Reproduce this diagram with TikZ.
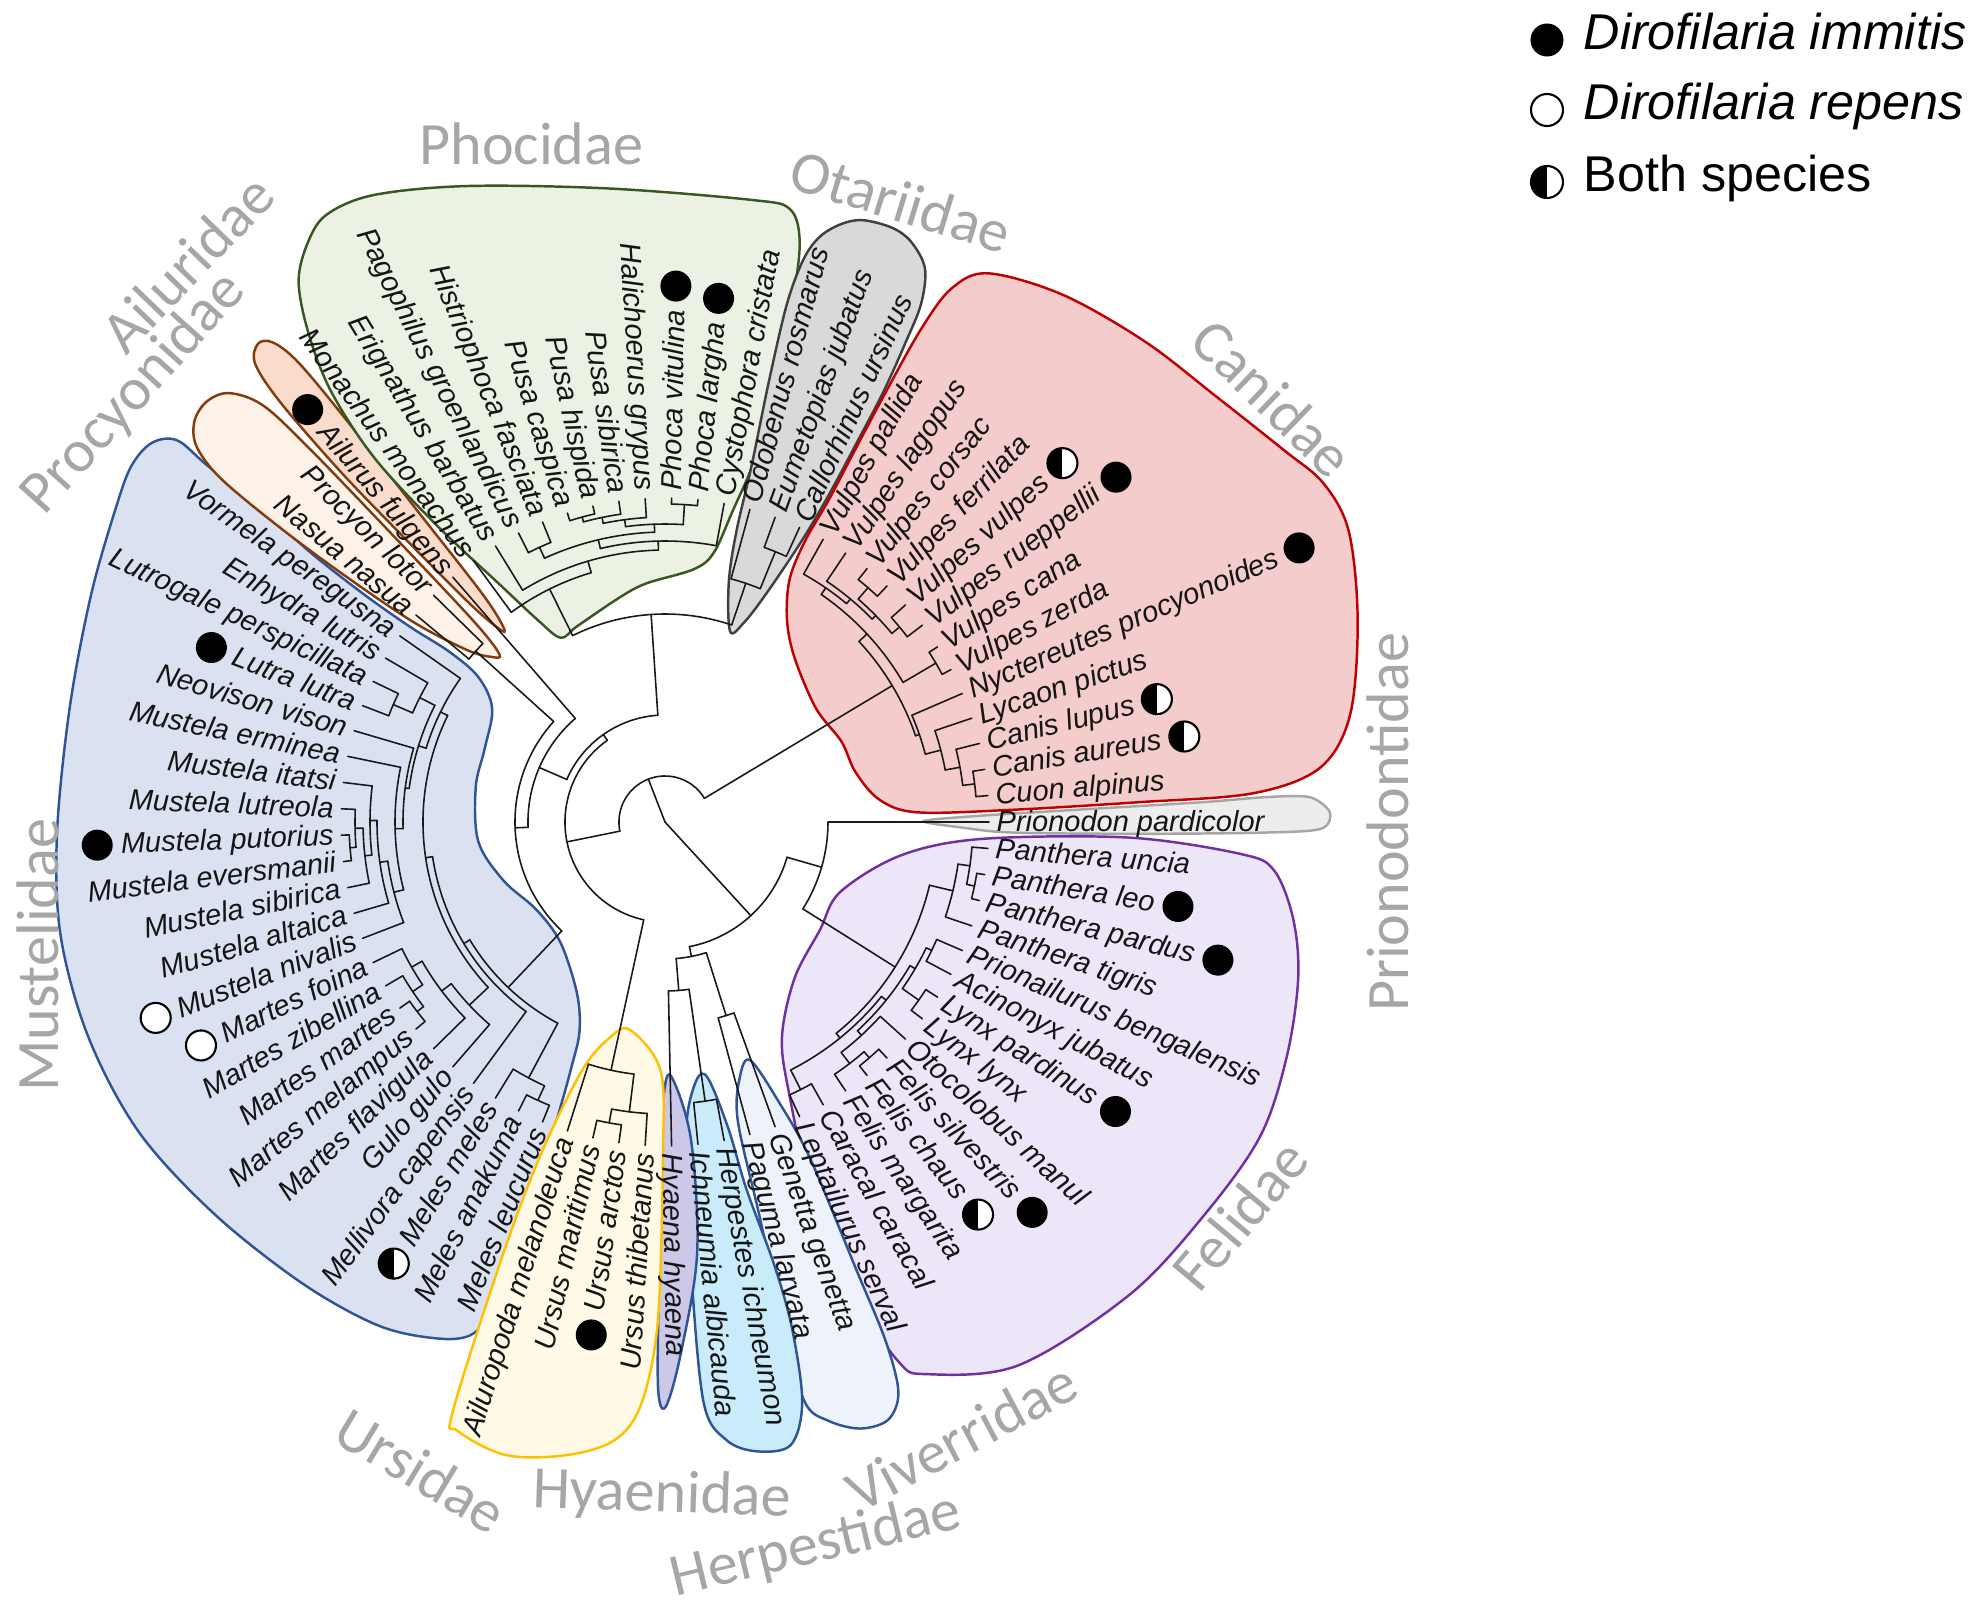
\documentclass[tikz,border=0pt]{standalone}
\usepackage{fontspec}
\setmainfont{Liberation Sans}
\newfontfamily\famfont{Carlito}
\usetikzlibrary{calc}

\definecolor{canF}{HTML}{F4CCCC}\definecolor{canD}{HTML}{C00000}
\definecolor{otaF}{HTML}{D9D9D9}\definecolor{otaD}{HTML}{404040}
\definecolor{phoF}{HTML}{EBF2E3}\definecolor{phoD}{HTML}{385723}
\definecolor{ailF}{HTML}{F9DCCB}\definecolor{ailD}{HTML}{843C0C}
\definecolor{proF}{HTML}{FDF1E8}
\definecolor{musF}{HTML}{DAE2F2}\definecolor{musD}{HTML}{2F5597}
\definecolor{ursF}{HTML}{FFF9E6}\definecolor{ursD}{HTML}{FFC000}
\definecolor{hyaF}{HTML}{CCC8E8}
\definecolor{herF}{HTML}{C9EBFA}
\definecolor{vivF}{HTML}{EEF2FA}
\definecolor{felF}{HTML}{ECE6F8}\definecolor{felD}{HTML}{7030A0}
\definecolor{priF}{HTML}{EDEDED}\definecolor{priD}{HTML}{A6A6A6}
\definecolor{famgray}{HTML}{A6A6A6}
\definecolor{labcol}{HTML}{151515}

\newcommand\labfont{\fontsize{8.25}{9.9}\selectfont\itshape}
\newcommand\famfnt{\famfont\fontsize{17.1}{20}\selectfont}
\newcommand\legfnt{\fontsize{14.3}{17}\selectfont}

\newcommand\setA[2]{\expandafter\xdef\csname A@#1\endcsname{#2}}
\newcommand\setR[2]{\expandafter\xdef\csname R@#1\endcsname{#2}}
\newcommand\getA[1]{\csname A@#1\endcsname}
\newcommand\getR[1]{\csname R@#1\endcsname}

% internal node: name, radius, ordered children
\newcommand\clade[3]{%
  \foreach \ch [count=\ci] in {#3}{\ifnum\ci=1 \xdef\cfirst{\ch}\fi\xdef\clast{\ch}}%
  \pgfmathsetmacro\aF{\getA{\cfirst}}%
  \pgfmathsetmacro\aL{\getA{\clast}}%
  \pgfmathsetmacro\aM{(\aF+\aL)/2}%
  \setA{#1}{\aM}\setR{#1}{#2}%
  \pgfmathsetmacro\rc{#2/100}%
  \coordinate (#1) at (\aM:#2);%
  \draw[branch] (\aF:#2) arc[start angle=\aF, end angle=\aL, radius=\rc cm];%
  \foreach \ch in {#3}{%
    \pgfmathsetmacro\ca{\getA{\ch}}%
    \draw[branch] (\ca:#2) -- (\ch);}%
}

% species label
\newcommand\spl[2]{%
  \pgfmathsetmacro\ang{\getA{L#1}}%
  \pgfmathtruncatemacro\side{(\ang>90)&&(\ang<270)}%
  \ifnum\side=1
    \pgfmathsetmacro\rot{\ang-180}%
    \node[lab, rotate=\rot, anchor=mid east] (n#1) at (\ang:331) {#2};%
  \else
    \node[lab, rotate=\ang, anchor=mid west] (n#1) at (\ang:331) {#2};%
  \fi}

% marker after label
\newcommand\mk[2]{%
  \pgfmathsetmacro\ang{\getA{L#1}}%
  \pgfmathtruncatemacro\side{(\ang>90)&&(\ang<270)}%
  \ifnum\side=1
    \node[#2] (m#1) at ([shift={(\ang:23)}]n#1.mid west) {};%
  \else
    \node[#2] (m#1) at ([shift={(\ang:23)}]n#1.mid east) {};%
  \fi}

\begin{document}
\begin{tikzpicture}[x=0.01cm, y=0.01cm,
  branch/.style={line width=0.45pt, black!90, line cap=round},
  lab/.style={font=\labfont, inner sep=0pt, text=labcol},
  hull/.style={line width=0.7pt},
  fam/.style={font=\famfnt, text=famgray, inner sep=0pt},
  fullmk/.style={circle, fill=black, inner sep=0pt, minimum size=3.1mm},
  openmk/.style={circle, draw=black, line width=0.6pt, fill=white, inner sep=0pt, minimum size=3.0mm},
  halfmk/.style={circle, draw=black, line width=0.6pt, fill=white, inner sep=0pt, minimum size=3.0mm,
     path picture={\fill[black] (path picture bounding box.south) rectangle (path picture bounding box.north west);}},
  legtext/.style={font=\legfnt, anchor=mid west, inner sep=0pt}]

\fill[white] (-665,-786) rectangle (1319,822);
\useasboundingbox (-665,-786) rectangle (1319,822);

% ---------------- hulls (reference pixel coordinates) ----------------
\begin{scope}[shift={(-665,822)}, xscale=1.2653, yscale=-1.2653]
\draw[hull, fill=musF, draw=musD] plot[smooth cycle, tension=0.55] coordinates {(120,350) (140,348) (164,368) (210,405) (247,438) (288,470) (325,496) (355,515) (378,535) (389,560) (383,592) (376,622) (378,665) (398,696) (424,719) (443,745) (456,785) (458,815) (452,842) (440,885) (414,970) (387,1033) (374,1054) (348,1058) (300,1048) (240,1015) (170,960) (110,895) (70,820) (48,740) (45,660) (55,560) (72,470) (92,400) (104,368)};
\end{scope}
\draw[hull, fill=proF, draw=ailD] plot[smooth cycle, tension=0.55] coordinates {(134.6:236) (133.6:280) (133.5:400) (133.6:520) (134.0:580) (135.5:612) (137.5:622) (139.6:618) (141.3:600) (142.3:560) (142.6:480) (142.4:400) (141.5:320) (139.0:262) (136.5:240)};
\draw[hull, fill=ailF, draw=ailD] plot[smooth cycle, tension=0.55] coordinates {(129.9:250) (128.7:290) (128.5:400) (128.4:520) (128.6:590) (129.3:620) (130.4:628) (131.8:615) (132.5:570) (132.8:480) (132.6:400) (131.9:300) (131.0:262)};
\begin{scope}[shift={(-665,822)}, xscale=1.2653, yscale=-1.2653]
\draw[hull, fill=phoF, draw=phoD] plot[smooth cycle, tension=0.55] coordinates {(236,222) (244,190) (259,169) (296,154) (370,147) (482,149) (594,158) (624,165) (632,190) (627,235) (613,309) (598,360) (579,404) (564,437) (548,450) (511,461) (490,472) (456,495) (443,504) (425,490) (395,462) (345,415) (296,362) (262,310) (244,264)};
\draw[hull, fill=otaF, draw=otaD] plot[smooth cycle, tension=0.55] coordinates {(577,499) (576,460) (582,420) (594,368) (608,300) (622,240) (635,205) (648,187) (665,177) (682,174) (705,180) (720,191) (731,212) (728,240) (716,270) (698,310) (676,352) (654,393) (632,430) (605,470) (588,492)};
\draw[hull, fill=canF, draw=canD] plot[smooth cycle, tension=0.55] coordinates {(781,216) (840,233) (905,270) (962,314) (1015,356) (1046,382) (1066,420) (1073,490) (1067,565) (1043,607) (990,627) (900,634) (800,640) (725,642) (695,632) (676,610) (665,586) (645,560) (628,520) (622,490) (624,458) (636,428) (655,395) (675,357) (700,310) (728,260) (752,228)};
\draw[hull, fill=priF, draw=priD] plot[smooth cycle, tension=0.5] coordinates {(730,649) (770,645) (850,640) (950,634) (1000,630) (1035,630) (1051,642) (1044,655) (1000,658) (900,659) (800,658) (760,654)};
\draw[hull, fill=felF, draw=felD] plot[smooth cycle, tension=0.55] coordinates {(664,705) (712,676) (776,663) (893,662) (981,675) (1007,688) (1022,726) (1026,773) (1017,835) (996,898) (952,960) (893,1023) (805,1079) (732,1086) (710,1076) (674,1023) (645,960) (624,866) (618,820) (628,773) (648,735)};
\draw[hull, fill=vivF, draw=musD] plot[smooth cycle, tension=0.55] coordinates {(593,838) (615,870) (640,915) (677,1004) (700,1060) (710,1100) (702,1122) (680,1129) (655,1123) (636,1108) (620,1050) (600,960) (583,885) (585,850)};
\draw[hull, fill=herF, draw=musD] plot[smooth cycle, tension=0.55] coordinates {(558,850) (575,890) (590,940) (612,1000) (626,1050) (634,1108) (625,1142) (598,1147) (574,1138) (556,1108) (546,1000) (542,900) (548,860)};
\draw[hull, fill=hyaF, draw=musD] plot[smooth cycle, tension=0.55] coordinates {(530,850) (546,900) (551,990) (538,1070) (526,1112) (520,1095) (521,1000) (522,938) (524,872)};
\draw[hull, fill=ursF, draw=ursD] plot[smooth cycle, tension=0.55] coordinates {(498,814) (522,846) (524,911) (520,1043) (507,1109) (486,1138) (448,1150) (400,1150) (362,1131) (358,1115) (398,990) (428,911) (460,846) (482,820)};
\end{scope}

% ---------------- tree ----------------
\foreach \k in {1,...,77}{%
  \pgfmathsetmacro\a{\k*4.6753247}%
  \setA{L\k}{\a}\setR{L\k}{324}%
  \coordinate (L\k) at (\a:324);}

% Canidae
\clade{CA}{312}{L1,L2}
\clade{CAL}{300}{CA,L3}
\clade{CANINI}{285}{CAL,L4}
\clade{CN}{269}{CANINI,L5}
\clade{ZC}{314}{L6,L7}
\clade{RV}{305}{L8,L9}
\clade{FC}{310}{L10,L11}
\clade{RVFC}{295}{RV,FC}
\clade{LG}{290}{RVFC,L12}
\clade{VV}{284}{LG,L13}
\clade{VUL}{276}{ZC,VV}
\clade{CAN}{265}{CN,VUL}
% Pinnipedia
\clade{OTB}{292}{L14,L15}
\clade{OTA}{252}{OTB,L16}
\clade{PP}{318}{L18,L19}
\clade{PUSB}{316}{L22,L23}
\clade{PUSA}{311}{L21,PUSB}
\clade{HPU}{305}{L20,PUSA}
\clade{PHOCINI}{298}{PP,HPU}
\clade{HP}{302}{L24,L25}
\clade{PHC}{290}{PHOCINI,HP}
\clade{PHB}{281}{L17,PHC}
\clade{PHOCINAE}{272}{PHB,L26}
\clade{PHO}{260}{PHOCINAE,L27}
\clade{PIN}{208}{OTA,PHO}
% Musteloidea
\clade{PROC}{255}{L29,L30}
\clade{LUTB}{296}{L33,L34}
\clade{LUTR}{275}{L32,LUTB}
\clade{MUG}{316}{L39,L40}
\clade{MUF}{310}{L38,MUG}
\clade{MUE}{302}{MUF,L41}
\clade{MUD}{295}{L37,MUE}
\clade{MUC}{288}{MUD,L42}
\clade{MUB}{280}{MUC,L43}
\clade{MUSTE}{270}{L36,MUB}
\clade{MUSTN}{262}{L35,MUSTE}
\clade{LM}{258}{LUTR,MUSTN}
\clade{MUSC}{250}{L31,LM}
\clade{MAC}{312}{L46,L47}
\clade{MAB}{304}{L45,MAC}
\clade{MAA}{292}{L44,MAB}
\clade{MART}{280}{MAA,L48}
\clade{GULON}{268}{MART,L49}
\clade{MUSB}{242}{MUSC,GULON}
\clade{MUSA}{235}{MUSB,L50}
\clade{MLB}{306}{L52,L53}
\clade{MELES}{290}{L51,MLB}
\clade{MUS}{228}{MUSA,MELES}
\clade{PMB}{150}{PROC,MUS}
\clade{MOID}{137}{L28,PMB}
\clade{PM}{107}{PIN,MOID}
% Ursidae
\clade{URSC}{306}{L55,L56}
\clade{URSB}{292}{URSC,L57}
\clade{URS}{254}{L54,URSB}
\clade{ARCT}{100}{PM,URS}
\clade{CANIF}{46}{CAN,ARCT}
% Feliformia
\clade{HERP}{282}{L59,L60}
\clade{HH}{169}{L58,HERP}
\clade{VIV}{203}{L61,L62}
\clade{VIVO}{137}{HH,VIV}
\clade{CL}{300}{L63,L64}
\clade{FEE}{312}{L66,L67}
\clade{FELIS}{304}{L65,FEE}
\clade{FEC}{290}{FELIS,L68}
\clade{LYNX}{310}{L69,L70}
\clade{AP}{296}{L71,L72}
\clade{FED}{290}{LYNX,AP}
\clade{FEB}{284}{FEC,FED}
\clade{FELINAE}{278}{CL,FEB}
\clade{PL}{316}{L74,L75}
\clade{PAB}{308}{PL,L76}
\clade{PANTH}{296}{L73,PAB}
\clade{FEL}{272}{FELINAE,PANTH}
\clade{FELO}{163}{FEL,L77}
\clade{FELIF}{127}{VIVO,FELO}
\coordinate (ROOT) at (0,0);
\draw[branch] (ROOT) -- (CANIF);
\draw[branch] (ROOT) -- (FELIF);

% ---------------- species labels ----------------
\foreach \k/\nm in {1/Cuon alpinus, 2/Canis aureus, 3/Canis lupus, 4/Lycaon pictus,
  5/Nyctereutes procyonoides, 6/Vulpes zerda, 7/Vulpes cana, 8/Vulpes rueppellii,
  9/Vulpes vulpes, 10/Vulpes ferrilata, 11/Vulpes corsac, 12/Vulpes lagopus,
  13/Vulpes pallida, 14/Callorhinus ursinus, 15/Eumetopias jubatus, 16/Odobenus rosmarus,
  17/Cystophora cristata, 18/Phoca largha, 19/Phoca vitulina, 20/Halichoerus grypus,
  21/Pusa sibirica, 22/Pusa hispida, 23/Pusa caspica, 24/Histriophoca fasciata,
  25/Pagophilus groenlandicus, 26/Erignathus barbatus, 27/Monachus monachus,
  28/Ailurus fulgens, 29/Procyon lotor, 30/Nasua nasua, 31/Vormela peregusna,
  32/Enhydra lutris, 33/Lutrogale perspicillata, 34/Lutra lutra, 35/Neovison vison,
  36/Mustela erminea, 37/Mustela itatsi, 38/Mustela lutreola, 39/Mustela putorius,
  40/Mustela eversmanii, 41/Mustela sibirica, 42/Mustela altaica, 43/Mustela nivalis,
  44/Martes foina, 45/Martes zibellina, 46/Martes martes, 47/Martes melampus,
  48/Martes flavigula, 49/Gulo gulo, 50/Mellivora capensis, 51/Meles meles,
  52/Meles anakuma, 53/Meles leucurus, 54/Ailuropoda melanoleuca, 55/Ursus maritimus,
  56/Ursus arctos, 57/Ursus thibetanus, 58/Hyaena hyaena, 59/Ichneumia albicauda,
  60/Herpestes ichneumon, 61/Paguma larvata, 62/Genetta genetta, 63/Leptailurus serval,
  64/Caracal caracal, 65/Felis margarita, 66/Felis chaus, 67/Felis silvestris,
  68/Otocolobus manul, 69/Lynx lynx, 70/Lynx pardinus, 71/Acinonyx jubatus,
  72/Prionailurus bengalensis, 73/Panthera tigris, 74/Panthera pardus, 75/Panthera leo,
  76/Panthera uncia, 77/Prionodon pardicolor}{\spl{\k}{\nm}}

% ---------------- markers ----------------
\mk{19}{fullmk}\mk{18}{fullmk}\mk{9}{halfmk}\mk{8}{fullmk}\mk{5}{fullmk}
\mk{3}{halfmk}\mk{2}{halfmk}\mk{75}{fullmk}\mk{74}{fullmk}\mk{70}{fullmk}
\mk{66}{halfmk}\mk{67}{fullmk}\mk{56}{fullmk}\mk{51}{halfmk}\mk{39}{fullmk}
\mk{34}{fullmk}\mk{28}{fullmk}\mk{43}{openmk}\mk{44}{openmk}

% ---------------- family names ----------------
\node[fam] (fPho) at (-133.6,678) {Phocidae};
\node[fam, rotate=-17] (fOta) at (235.9,621) {Otariidae};
\node[fam, rotate=-44] (fCan) at (608,424) {Canidae};
\node[fam, rotate=90] (fPri) at (723,-0.4) {Prionodontidae};
\node[fam, rotate=50] (fFel) at (575,-392.7) {Felidae};
\node[fam, rotate=28] (fViv) at (296.6,-614.1) {Viverridae};
\node[fam, rotate=13.5] (fHer) at (151.1,-724.2) {Herpestidae};
\node[fam, rotate=-2] (fHya) at (-3.2,-673.6) {Hyaenidae};
\node[fam, rotate=-31] (fUrs) at (-243.7,-648.3) {Ursidae};
\node[fam, rotate=90] (fMus) at (-627,-133.3) {Mustelidae};
\node[fam, rotate=48] (fPro) at (-530.9,428.5) {Procyonidae};
\node[fam, rotate=46] (fAil) at (-477.7,558.8) {Ailuridae};

% ---------------- legend ----------------
\node[fullmk, minimum size=3.3mm] (lg1) at (882,782) {};
\node[legtext] (lt1) at (918,782) {\itshape Dirofilaria immitis};
\node[openmk, minimum size=3.2mm] (lg2) at (882,712) {};
\node[legtext] (lt2) at (918,712) {\itshape Dirofilaria repens};
\node[halfmk, minimum size=3.2mm] (lg3) at (882,640) {};
\node[legtext] (lt3) at (918,640) {Both species};
\end{tikzpicture}
\end{document}
